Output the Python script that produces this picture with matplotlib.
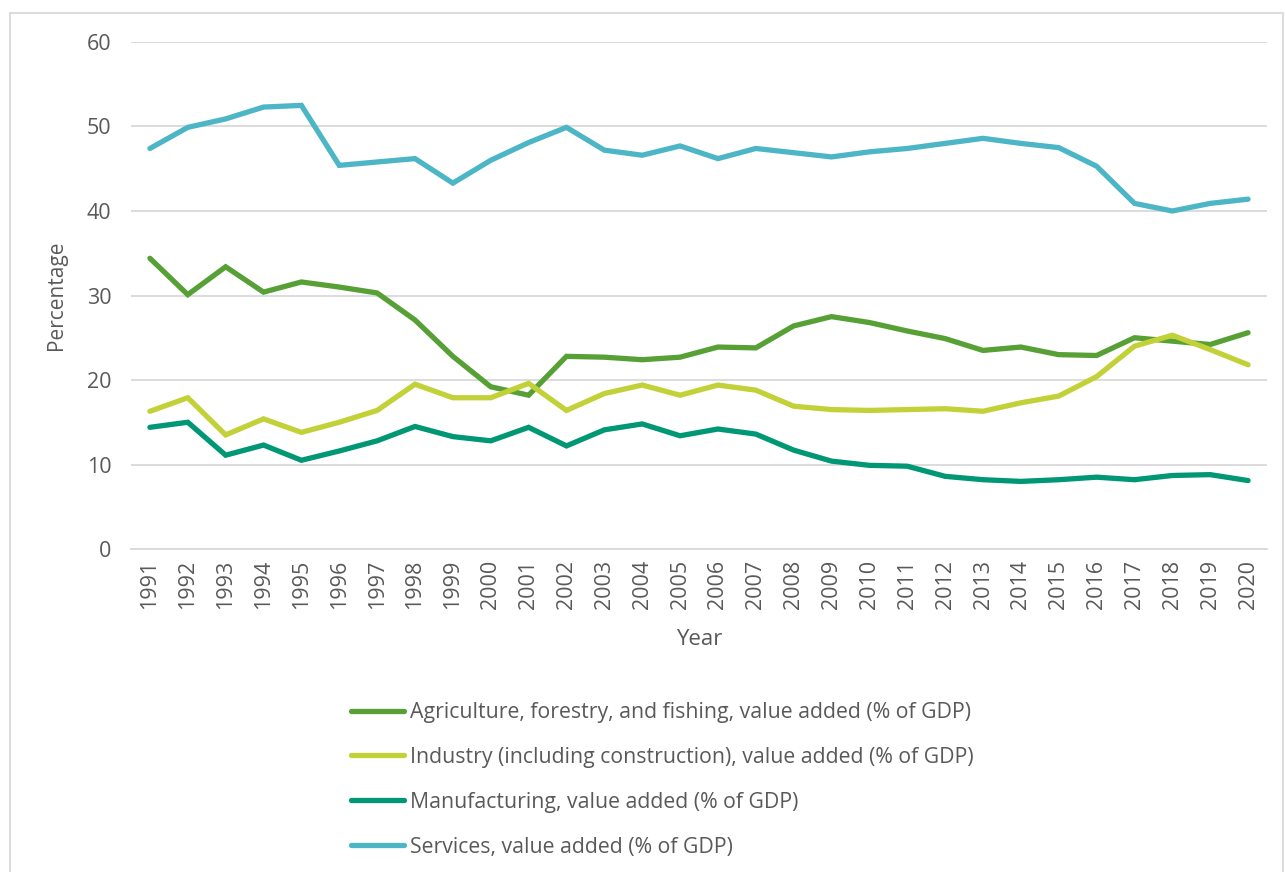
import matplotlib.pyplot as plt
from matplotlib.patches import Rectangle

years = list(range(1991, 2021))

agriculture = [34.4, 30.1, 33.4, 30.4, 31.6, 31.0, 30.3, 27.1, 22.8, 19.2,
               18.2, 22.8, 22.7, 22.4, 22.7, 23.9, 23.8, 26.4, 27.5, 26.8,
               25.8, 24.9, 23.5, 23.9, 23.0, 22.9, 25.0, 24.6, 24.2, 25.6]
industry = [16.3, 17.9, 13.5, 15.4, 13.8, 15.0, 16.4, 19.5, 17.9, 17.9,
            19.6, 16.4, 18.4, 19.4, 18.2, 19.4, 18.8, 16.9, 16.5, 16.4,
            16.5, 16.6, 16.3, 17.3, 18.1, 20.4, 24.0, 25.3, 23.6, 21.8]
manufacturing = [14.4, 15.0, 11.1, 12.3, 10.5, 11.6, 12.8, 14.5, 13.3, 12.8,
                 14.4, 12.2, 14.1, 14.8, 13.4, 14.2, 13.6, 11.7, 10.4, 9.9,
                 9.8, 8.6, 8.2, 8.0, 8.2, 8.5, 8.2, 8.7, 8.8, 8.1]
services = [47.4, 49.9, 50.9, 52.3, 52.5, 45.4, 45.8, 46.2, 43.3, 46.0,
            48.1, 49.9, 47.2, 46.6, 47.7, 46.2, 47.4, 46.9, 46.4, 47.0,
            47.4, 48.0, 48.6, 48.0, 47.5, 45.3, 40.9, 40.0, 40.9, 41.4]

labels = ['Agriculture, forestry, and fishing, value added (% of GDP)',
          'Industry (including construction), value added (% of GDP)',
          'Manufacturing, value added (% of GDP)',
          'Services, value added (% of GDP)']
colors = ['#56A036', '#C3D138', '#009774', '#4CB6C6']

plt.rcParams['font.family'] = ['Open Sans', 'DejaVu Sans']

fig = plt.figure(figsize=(12.85, 8.72), dpi=100)
ax = fig.add_axes([131 / 1285, 1 - 549 / 872, (1267 - 131) / 1285, (549 - 42) / 872])

x = range(len(years))
for vals, lab, col in zip([agriculture, industry, manufacturing, services], labels, colors):
    ax.plot(x, vals, color=col, lw=3.8, label=lab, solid_capstyle='round', solid_joinstyle='miter')

ax.set_xlim(-0.5, len(years) - 0.5)
ax.set_ylim(0, 60)
ax.set_yticks(range(0, 61, 10))
ax.set_xticks(list(x))
ax.set_xticklabels([str(y) for y in years], rotation=90)
ax.tick_params(axis='both', length=0, labelsize=15.5, colors='#595959', pad=8)
ax.tick_params(axis='y', pad=14)
ax.grid(axis='y', color='#D9D9D9', lw=1.3)
ax.set_axisbelow(True)
for s in ['top', 'right', 'left']:
    ax.spines[s].set_visible(False)
ax.spines['bottom'].set_color('#D9D9D9')
ax.spines['bottom'].set_linewidth(1.3)

ax.set_xlabel('Year', fontsize=16, color='#595959', labelpad=14)
ax.set_ylabel('Percentage', fontsize=15, color='#595959', labelpad=14)

leg = fig.legend(loc='upper left', bbox_to_anchor=(332 / 1285, 1 - 683 / 872),
                 frameon=False, fontsize=15.3, handlelength=2.5, handletextpad=0.25,
                 labelspacing=1.12, labelcolor='#595959')

fig.patches.append(Rectangle((10 / 1285, -0.01), (1283 - 10) / 1285, 1 - 13 / 872 + 0.01,
                             transform=fig.transFigure, fill=False, edgecolor='#D9D9D9', lw=1.3))

fig.savefig('out.png', dpi=100)
